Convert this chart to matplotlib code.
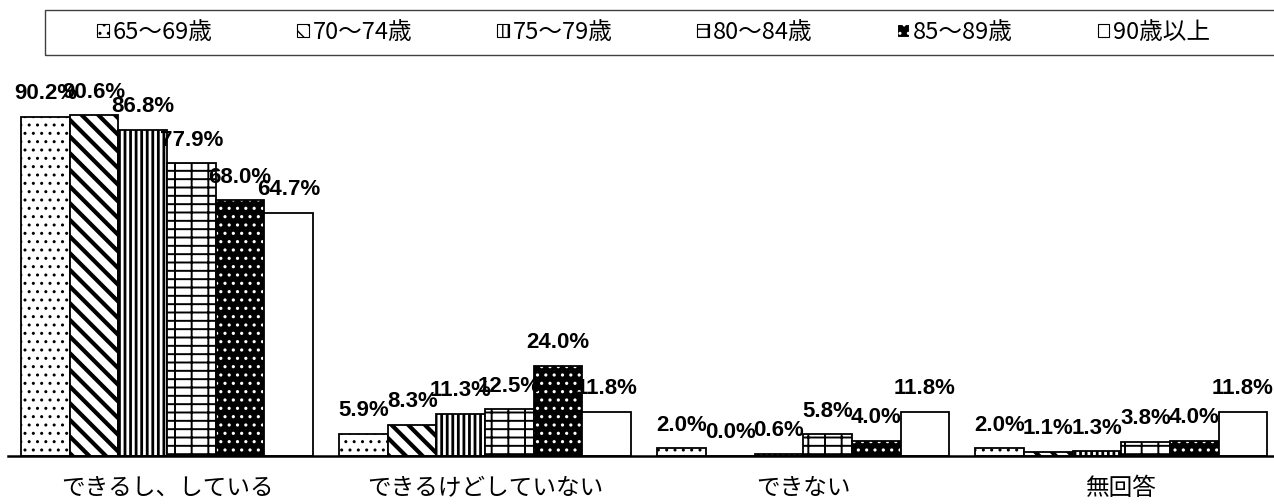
import numpy as np
import matplotlib as mpl
import matplotlib.pyplot as plt
from matplotlib.patches import Patch, Rectangle

plt.rcParams['font.family'] = ['Noto Sans CJK JP', 'DejaVu Sans']

# 回答区分と年齢区分
categories = ['できるし、している', 'できるけどしていない', 'できない', '無回答']
age_groups = ['65～69歳', '70～74歳', '75～79歳', '80～84歳', '85～89歳', '90歳以上']

# 年齢区分ごとの割合(%)
v65_69 = [90.2, 5.9, 2.0, 2.0]
v70_74 = [90.6, 8.3, 0.0, 1.1]
v75_79 = [86.8, 11.3, 0.6, 1.3]
v80_84 = [77.9, 12.5, 5.8, 3.8]
v85_89 = [68.0, 24.0, 4.0, 4.0]
v90_up = [64.7, 11.8, 11.8, 11.8]
series = [v65_69, v70_74, v75_79, v80_84, v85_89, v90_up]

# 白黒印刷用の塗り分け
hatches = ['..', '\\\\', '|||', '--|', '..', '']
faces = ['white', 'white', 'white', 'white', 'black', 'white']
hatch_cols = ['black', 'black', 'black', 'black', 'white', 'black']
hatch_lw = [1.0, 3.0, 2.0, 1.4, 1.1, 1.0]

fig = plt.figure(figsize=(12.74, 5.04), dpi=100)
ax = fig.add_axes([8 / 1274, 48 / 504, 1266 / 1274, 376 / 504])

x = np.arange(len(categories))
w = 0.153
label_font = dict(family=['Liberation Sans', 'DejaVu Sans'],
                  fontweight='bold', fontsize=16)

handles = []
for i, vals in enumerate(series):
    pos = x + (i - 2.5) * w
    # ハッチの色は edgecolor から取られるので、枠線は別に重ねる
    with mpl.rc_context({'hatch.linewidth': hatch_lw[i]}):
        bars = ax.bar(pos, vals, w, color=faces[i], edgecolor=hatch_cols[i],
                      hatch=hatches[i], linewidth=0)
        handles.append(Patch(facecolor=faces[i], edgecolor=hatch_cols[i],
                             hatch=hatches[i], linewidth=0.8))
    if hasattr(bars[0], 'set_hatch_linewidth'):
        for b in bars:
            b.set_hatch_linewidth(hatch_lw[i])
        handles[-1].set_hatch_linewidth(min(hatch_lw[i], 1.6))
    ax.bar(pos, vals, w, fill=False, edgecolor='black', linewidth=1.3)
    for p, v in zip(pos, vals):
        ax.annotate(f'{v:.1f}%', (p, v), xytext=(0, 9),
                    textcoords='offset points', ha='center', va='bottom',
                    **label_font)

ax.set_xlim(-0.5, 3.48)
ax.set_ylim(0, 100)
ax.set_yticks([])
ax.set_xticks(x)
ax.set_xticklabels(categories, fontsize=17)
ax.tick_params(axis='x', length=0, pad=15)
for s in ['left', 'top', 'right']:
    ax.spines[s].set_visible(False)
ax.spines['bottom'].set_linewidth(1.8)

fig.legend(handles, age_groups, loc='center', bbox_to_anchor=(0.513, 0.936),
           ncol=6, frameon=False, fontsize=17, handlelength=0.5,
           handleheight=0.5, handletextpad=0.15, columnspacing=3.6)
fig.add_artist(Rectangle((45 / 1274, 1 - 55 / 504), 1245 / 1274, 45 / 504,
                         transform=fig.transFigure, fill=False,
                         edgecolor='#404040', linewidth=1))

fig.savefig('out.png', dpi=100)
